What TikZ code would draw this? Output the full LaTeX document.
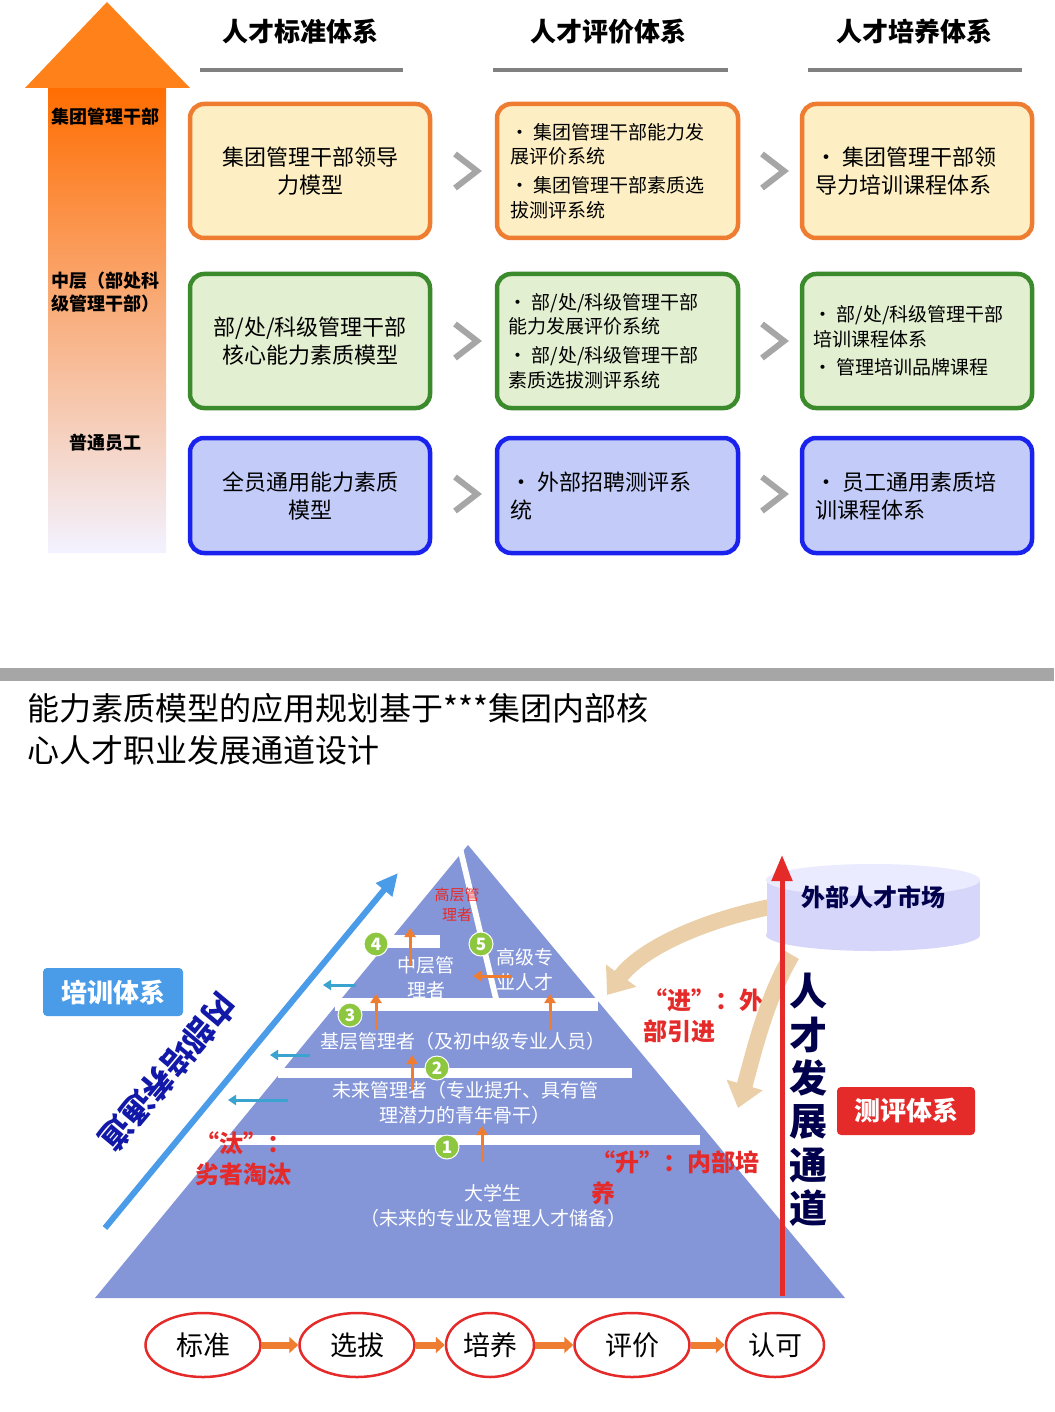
\documentclass[tikz,border=0pt]{standalone}
\usepackage{fontspec}
\setmainfont{Noto Sans CJK SC}
\usetikzlibrary{arrows.meta,shapes.geometric}
\newcommand{\fs}[1]{\fontsize{#1pt}{\dimexpr #1pt*13/10\relax}\selectfont}
\definecolor{oborder}{HTML}{EE7D31}
\definecolor{ofill}{HTML}{FDEFC3}
\definecolor{gborder}{HTML}{3B8A2C}
\definecolor{gfill}{HTML}{E3EFD1}
\definecolor{bborder}{HTML}{1A22EE}
\definecolor{bfill}{HTML}{C3CBF8}
\definecolor{pyr}{HTML}{8496D8}
\definecolor{lblue}{HTML}{4A9BE8}
\definecolor{myred}{HTML}{E52A2A}
\definecolor{cgreen}{HTML}{8DC63F}
\definecolor{orar}{HTML}{EE7D31}
\definecolor{teal}{HTML}{3BA3D0}
\definecolor{beige}{HTML}{EBCFA8}
\begin{document}
\begin{tikzpicture}[x=1pt,y=-1pt,
 hdr/.style={font=\fs{26}\bfseries},
 chev/.style={draw=gray!70,line width=6pt,line cap=butt},
 circ/.style={circle,fill=cgreen,draw=white,line width=1pt,minimum size=24pt,inner sep=0pt,text=white,font=\fs{17}\bfseries},
 oup/.style={-{Triangle[length=9pt,width=11pt]},draw=orar,line width=3pt},
 tar/.style={-{Triangle[length=8pt,width=10pt]},draw=teal,line width=3pt},
 wtxt/.style={text=white,font=\fs{19},align=center},
 rtxt/.style={text=myred,font=\fs{24}\bfseries,align=left},
 btxt/.style={align=left,anchor=west},
 ell/.style={ellipse,draw=myred,line width=2.5pt,fill=white,minimum width=115pt,minimum height=64pt,font=\fs{27}},
 flow/.style={-{Triangle[length=9pt,width=16pt]},draw=orar,line width=7pt}
]
\useasboundingbox (0,0) rectangle (1054,1412);
\fill[white] (0,0) rectangle (1054,1412);
% left big arrow
\shade[top color=orange!85!red,bottom color=blue!5] (48,85) rectangle (166,552);
\fill[orange!90!red!90] (25,88) -- (107,2) -- (190,88) -- cycle;
\node[font=\fs{18}\bfseries] (l1) at (105,117) {集团管理干部};
\node[font=\fs{18}\bfseries,align=left] (l2) at (105,292) {中层（部处科\\级管理干部）};
\node[font=\fs{18}\bfseries] (l3) at (105,443) {普通员工};
% headers
\node[hdr] (h1) at (300,32) {人才标准体系};
\node[hdr] (h2) at (608,32) {人才评价体系};
\node[hdr] (h3) at (914,32) {人才培养体系};
\foreach \a/\b in {200/403,493/728,808/1022}{\draw[gray,line width=3.5pt] (\a,70) -- (\b,70);}
% row boxes
\foreach \y/\h/\bc/\fc in {104/134/oborder/ofill,274/134/gborder/gfill,438/115/bborder/bfill}{
 \foreach \x/\w in {190/240,497/241,802/230}{
  \draw[rounded corners=14pt,line width=4.5pt,draw=\bc,fill=\fc] (\x,\y) rectangle ++(\w,\h);}}
\node[font=\fs{22},align=center] (b11) at (310,171) {集团管理干部领导\\力模型};
\node[font=\fs{19},btxt] (b12) at (507,171) {• 集团管理干部能力发\\展评价系统\\[4pt]• 集团管理干部素质选\\拔测评系统};
\node[font=\fs{22},btxt] (b13) at (812,171) {• 集团管理干部领\\导力培训课程体系};
\node[font=\fs{22},align=center] (b21) at (310,341) {部/处/科级管理干部\\核心能力素质模型};
\node[font=\fs{19},btxt] (b22) at (505,341) {• 部/处/科级管理干部\\能力发展评价系统\\[4pt]• 部/处/科级管理干部\\素质选拔测评系统};
\node[font=\fs{19},btxt] (b23) at (810,341) {• 部/处/科级管理干部\\培训课程体系\\[4pt]• 管理培训品牌课程};
\node[font=\fs{22},align=center] (b31) at (310,496) {全员通用能力素质\\模型};
\node[font=\fs{22},btxt] (b32) at (507,496) {• 外部招聘测评系\\统};
\node[font=\fs{22},btxt] (b33) at (812,496) {• 员工通用素质培\\训课程体系};
\foreach \x in {455,762}{\foreach \y in {171,341,494}{
 \draw[chev] (\x,\y-17) -- (\x+22,\y) -- (\x,\y+17);}}
% separator
\fill[gray!70] (0,668) rectangle (1054,681);
\node[font=\fs{32},align=left,anchor=north west] (title) at (24,690) {能力素质模型的应用规划基于***集团内部核\\心人才职业发展通道设计};
% pyramid
\fill[pyr] (95,1298) -- (468,845) -- (845,1298) -- cycle;
\fill[white] (375,935) rectangle (440,948);
\fill[white] (457,848) -- (463,848) -- (500,1003) -- (494,1003) -- cycle;
\fill[white] (335,998) rectangle (598,1011);
\fill[white] (278,1068) rectangle (632,1078);
\fill[white] (215,1135) rectangle (700,1145);
% blue diagonal
\draw[lblue,line width=6pt,-{Triangle[length=22pt,width=20pt]}] (105,1228) -- (398,873);
\node[font=\fs{32}\bfseries,text=bborder!70!black,rotate=-130] (inner) at (168,1072) {内部培养通道};
% labels in pyramid
\node[text=myred,font=\fs{15},align=center] (top) at (457,905) {高层管\\理者};
\node[wtxt] (mid) at (426,978) {中层管\\理者};
\node[wtxt] (sen) at (525,970) {高级专\\业人才};
\node[wtxt] (base) at (463,1041) {基层管理者（及初中级专业人员）};
\node[wtxt] (fut) at (465,1103) {未来管理者（专业提升、具有管\\理潜力的青年骨干）};
\node[wtxt] (stu) at (493,1206) {大学生\\（未来的专业及管理人才储备）};
% arrows
\draw[oup] (410,966) -- (410,928);
\draw[oup] (376,1030) -- (376,994);
\draw[oup] (550,1030) -- (550,994);
\draw[oup] (412,1090) -- (412,1055);
\draw[oup] (482,1162) -- (482,1126);
\draw[oup] (512,976) -- (473,976);
\draw[tar] (356,985) -- (323,985);
\draw[tar] (310,1055) -- (270,1055);
\draw[tar] (288,1100) -- (228,1100);
\node[circ] (c1) at (447,1147) {1};
\node[circ] (c2) at (437,1068) {2};
\node[circ] (c3) at (350,1015) {3};
\node[circ] (c4) at (376,944) {4};
\node[circ] (c5) at (481,944) {5};
% red texts
\node[rtxt,anchor=north west] (jin) at (640,985) {“进”：外\\部引进};
\node[rtxt,anchor=north west] (tai) at (192,1128) {“汰”：\\劣者淘汰};
\node[rtxt,anchor=north west] (sheng) at (588,1147) {“升”：内部培\\养};
% curved arrows
\draw[line width=16pt,draw=beige,-{Triangle[length=24pt,width=36pt]}] (780,905) .. controls (700,920) and (640,950) .. (607,995);
\draw[line width=16pt,draw=beige,-{Triangle[length=24pt,width=36pt]}] (792,955) .. controls (765,1000) and (752,1060) .. (738,1108);
% cylinder
\fill[gray!20!blue!18] (767,880) rectangle (980,935);
\fill[gray!20!blue!18] (873,935) ellipse (107pt and 16pt);
\fill[blue!8] (873,880) ellipse (107pt and 16pt);
\node[font=\fs{24}\bfseries,text=blue!30!black] (mkt) at (873,897) {外部人才市场};
% red vertical arrow
\draw[myred,line width=5pt,-{Triangle[length=26pt,width=20pt]}] (782,1296) -- (782,855);
\node[font=\fs{38}\bfseries,align=center,text=blue!30!black] (chan) at (808,1100) {人\\[-6pt]才\\[-6pt]发\\[-6pt]展\\[-6pt]通\\[-6pt]道};
% side boxes
\node[fill=lblue,text=white,font=\fs{26}\bfseries,rounded corners=4pt,minimum width=140pt,minimum height=48pt] (px) at (113,992) {培训体系};
\node[fill=myred,text=white,font=\fs{26}\bfseries,rounded corners=4pt,minimum width=138pt,minimum height=48pt] (cp) at (906,1111) {测评体系};
% bottom flow
\node[ell] (e1) at (203,1345) {标准};
\node[ell] (e2) at (357,1345) {选拔};
\node[ell,minimum width=88pt] (e3) at (490,1345) {培养};
\node[ell] (e4) at (632,1345) {评价};
\node[ell,minimum width=98pt] (e5) at (775,1345) {认可};
\draw[flow] (e1) -- (e2);
\draw[flow] (e2) -- (e3);
\draw[flow] (e3) -- (e4);
\draw[flow] (e4) -- (e5);
\end{tikzpicture}
\end{document}
